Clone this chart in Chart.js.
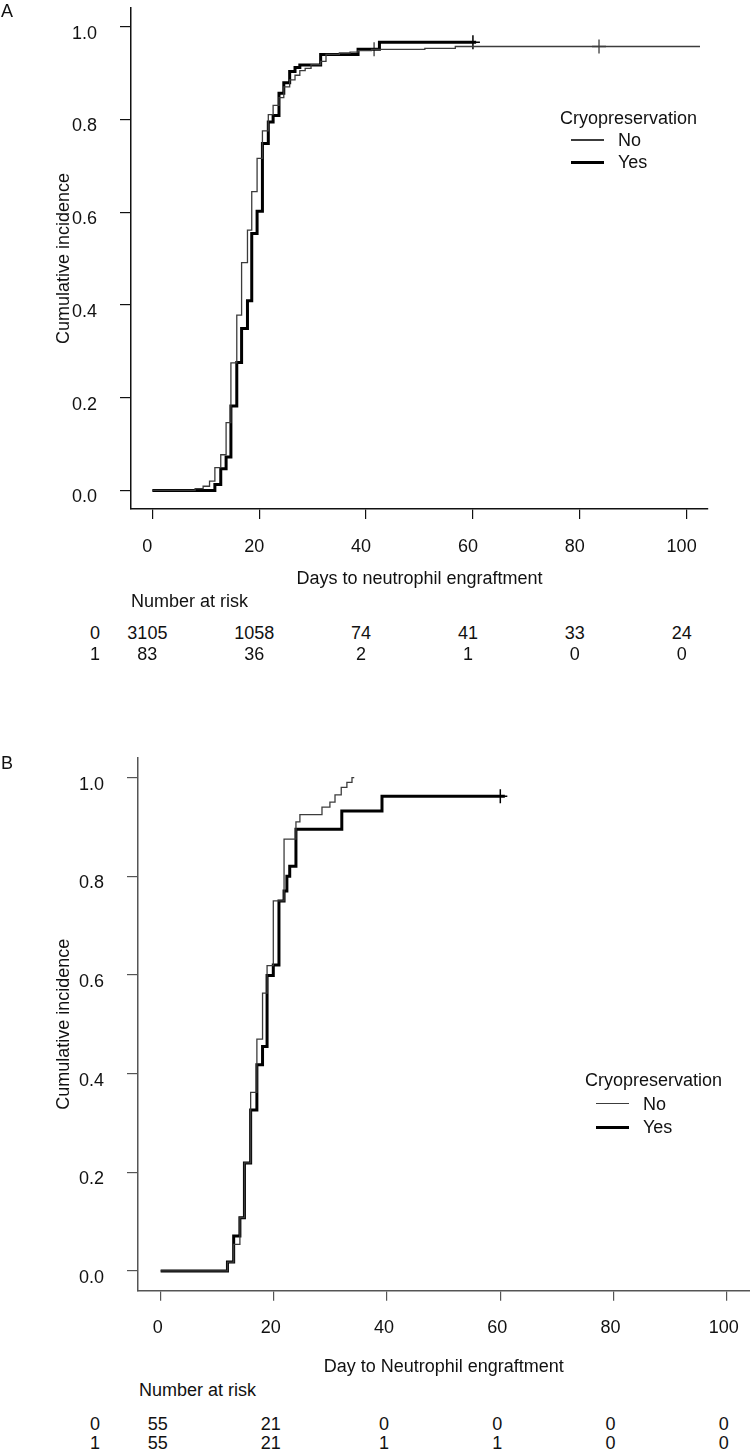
<!DOCTYPE html>
<html><head><meta charset="utf-8">
<script src="https://cdn.jsdelivr.net/npm/chart.js@4.4.1/dist/chart.umd.min.js"></script>
<style>
html,body{margin:0;padding:0;background:#fff;}
#wrap{position:relative;width:750px;height:1452px;overflow:hidden;font-family:"Liberation Sans",Arial,sans-serif;color:#111;}
canvas{position:absolute;left:0;}
.t{position:absolute;font-size:18px;line-height:20px;white-space:nowrap;}
</style></head><body>
<div id="wrap">
<canvas id="cA" width="750" height="600" style="top:0px"></canvas>
<canvas id="cB" width="750" height="640" style="top:740px"></canvas>
</div>
<script>
// ---- shared ticks / labels ----
const xTicks = [0, 20, 40, 60, 80, 100];
const yTicks = [0, 0.2, 0.4, 0.6, 0.8, 1.0];
const groupNames = ['No', 'Yes'];
const riskRowLabels = ['0', '1'];
const riskTimes = [0, 20, 40, 60, 80, 100];

// ---- Panel A ----
const aNoDays = [0, 8, 9.5, 10.7, 11.7, 12.8, 13.8, 14.7, 15.8, 16.7, 17.8, 18.6, 19.6, 20.6, 21.7, 22.6, 23.7, 24.6, 25.7, 26.7, 27.6, 28.6, 29.7, 31.5, 32.5, 35, 37, 38.5, 41, 51, 56.7, 102.5];
const aNoVals = [0, 0.004, 0.009, 0.02, 0.049, 0.077, 0.146, 0.275, 0.378, 0.491, 0.561, 0.644, 0.716, 0.775, 0.81, 0.83, 0.847, 0.87, 0.885, 0.895, 0.905, 0.91, 0.918, 0.925, 0.94, 0.943, 0.945, 0.948, 0.951, 0.953, 0.957, 0.957];
const aYesDays = [0, 11.7, 12.8, 13.8, 14.7, 15.8, 16.7, 17.8, 18.6, 19.6, 20.6, 21.7, 22.6, 23.7, 24.6, 25.7, 26.7, 27.6, 31.5, 38.5, 42.5, 60.6];
const aYesVals = [0, 0.013, 0.047, 0.072, 0.182, 0.276, 0.349, 0.409, 0.554, 0.602, 0.748, 0.794, 0.808, 0.856, 0.879, 0.903, 0.912, 0.917, 0.94, 0.951, 0.966, 0.966];
const aNoCensorDays = [41.5, 83.6];
const aNoCensorVals = [0.951, 0.957];
const aYesCensorDays = [60];
const aYesCensorVals = [0.966];
const aRiskNo = [3105, 1058, 74, 41, 33, 24];
const aRiskYes = [83, 36, 2, 1, 0, 0];

// ---- Panel B ----
const bNoDays = [0, 11.8, 12.9, 14, 14.8, 15.9, 17, 18, 18.8, 19.9, 21.8, 23.9, 24.6, 28.5, 29.9, 30.8, 31.9, 32.9, 33.8, 34.2];
const bNoVals = [0, 0.018, 0.054, 0.108, 0.219, 0.362, 0.47, 0.563, 0.619, 0.75, 0.875, 0.91, 0.925, 0.94, 0.95, 0.965, 0.98, 0.99, 1.0, 1.0];
const bYesDays = [0, 11.8, 12.9, 14, 14.8, 15.9, 17, 18, 18.8, 19.9, 20.9, 21.8, 22.3, 22.8, 23.9, 32, 39.1, 60.8];
const bYesVals = [0, 0.018, 0.071, 0.108, 0.219, 0.326, 0.418, 0.455, 0.599, 0.62, 0.75, 0.77, 0.8, 0.82, 0.895, 0.932, 0.962, 0.962];
const bYesCensorDays = [60];
const bYesCensorVals = [0.962];
const bRiskNo = [55, 21, 0, 0, 0, 0];
const bRiskYes = [55, 21, 1, 1, 0, 0];

const FONT = '"Liberation Sans", Arial, sans-serif';
const wrap = document.getElementById('wrap');

function pts(xs, ys) { return xs.map((x, i) => ({x: x, y: ys[i]})); }

function addText(txt, left, top, align) {
  const d = document.createElement('div');
  d.className = 't';
  d.textContent = txt;
  wrap.appendChild(d);
  d.style.top = (top - 10) + 'px';
  if (align === 'center') { d.style.left = (left - d.offsetWidth / 2) + 'px'; }
  else if (align === 'right') { d.style.left = (left - d.offsetWidth) + 'px'; }
  else { d.style.left = left + 'px'; }
  return d;
}

function zeroPad(s) { s.paddingTop = 0; s.paddingBottom = 0; s.paddingLeft = 0; s.paddingRight = 0; }

function makePanel(cfg) {
  const datasets = [
    {label: groupNames[0], data: pts(cfg.noDays, cfg.noVals), stepped: 'before', borderColor: '#3c3c3c', borderWidth: 1.3, pointRadius: 0, pointHoverRadius: 0, fill: false},
    {label: groupNames[1], data: pts(cfg.yesDays, cfg.yesVals), stepped: 'before', borderColor: '#000', borderWidth: 3, pointRadius: 0, pointHoverRadius: 0, fill: false}
  ];
  if (cfg.noCDays) datasets.push({label: 'cNo', type: 'scatter', data: pts(cfg.noCDays, cfg.noCVals), pointStyle: 'cross', pointRadius: 7, borderColor: '#3c3c3c', borderWidth: 1.3, showLine: false});
  if (cfg.yesCDays) datasets.push({label: 'cYes', type: 'scatter', data: pts(cfg.yesCDays, cfg.yesCVals), pointStyle: 'cross', pointRadius: 7, borderColor: '#000', borderWidth: 1.5, showLine: false});

  const lh = 21.6;
  const canvasH = document.getElementById(cfg.canvas).height;
  const padBottom = canvasH - (cfg.xTitleY + lh / 2);
  let placed = false;
  const overlay = {
    id: 'overlay',
    afterDraw(chart) {
      if (placed) return; placed = true;
      const xs = chart.scales.x;
      const off = cfg.top0;
      addText('Number at risk', cfg.riskLeft, off + cfg.riskTitleY, 'left');
      [cfg.riskNo, cfg.riskYes].forEach((row, r) => {
        const yy = off + cfg.riskRowY[r];
        addText(riskRowLabels[r], cfg.rowLabelX, yy, 'center');
        row.forEach((v, i) => addText(String(v), xs.getPixelForValue(riskTimes[i]) + cfg.labOff, yy, 'center'));
      });
      addText('Cryopreservation', cfg.legX, off + cfg.legY, 'left');
      groupNames.forEach((g, i) => {
        const yy = off + cfg.legY + cfg.legGap * (i + 1);
        const ln = document.createElement('div');
        ln.style.position = 'absolute';
        ln.style.left = cfg.legLineX + 'px';
        ln.style.width = '33px';
        const w = i === 0 ? 1.3 : 3;
        ln.style.height = w + 'px';
        ln.style.top = (yy - w / 2) + 'px';
        ln.style.background = i === 0 ? '#3c3c3c' : '#000';
        wrap.appendChild(ln);
        addText(g, cfg.legTextX, yy, 'left');
      });
      addText(cfg.panel, 1, off + cfg.panelY, 'left');
    }
  };

  return new Chart(document.getElementById(cfg.canvas), {
    type: 'line',
    data: {datasets: datasets},
    plugins: [overlay],
    options: {
      responsive: false,
      animation: false,
      events: [],
      layout: {autoPadding: false, padding: {left: 0, right: cfg.padRight, top: cfg.padTop, bottom: padBottom}},
      plugins: {legend: {display: false}, tooltip: {enabled: false}},
      scales: {
        x: {
          type: 'linear', min: -4, max: 104,
          afterBuildTicks(s) { s.ticks = xTicks.map(v => ({value: v})); },
          afterFit(s) { s.height = cfg.xTitleY + lh / 2 - cfg.bottom; zeroPad(s); },
          grid: {display: true, drawOnChartArea: false, drawTicks: true, tickLength: 10, color: cfg.axisColor, lineWidth: 1.2},
          border: {display: true, color: cfg.axisColor, width: 1.5},
          ticks: {color: '#111', font: {family: FONT, size: 18}, padding: 17, labelOffset: cfg.labOff, maxRotation: 0, autoSkip: false, callback: v => String(v)},
          title: {display: true, text: cfg.xTitle, color: '#111', font: {family: FONT, size: 18}, padding: {top: 0, bottom: 0}}
        },
        y: {
          type: 'linear', min: -0.04, max: 1.04,
          afterBuildTicks(s) { s.ticks = yTicks.map(v => ({value: v})); },
          afterFit(s) { s.width = cfg.left; zeroPad(s); },
          grid: {display: true, drawOnChartArea: false, drawTicks: true, tickLength: 11, color: cfg.axisColor, lineWidth: 1.2},
          border: {display: true, color: cfg.axisColor, width: 1.5},
          ticks: {color: '#111', font: {family: FONT, size: 18}, padding: 23, labelOffset: 7, callback: v => v.toFixed(1)},
          title: {display: true, text: 'Cumulative incidence', color: '#111', font: {family: FONT, size: 18}, padding: {top: 53, bottom: 0}}
        }
      }
    }
  });
}

makePanel({
  canvas: 'cA', panel: 'A', top0: 0, panelY: 11,
  left: 131, padRight: 42, padTop: 8, bottom: 509, xTitleY: 579,
  xTitle: 'Days to neutrophil engraftment', axisColor: '#111', labOff: -5,
  noDays: aNoDays, noVals: aNoVals, yesDays: aYesDays, yesVals: aYesVals,
  noCDays: aNoCensorDays, noCVals: aNoCensorVals, yesCDays: aYesCensorDays, yesCVals: aYesCensorVals,
  riskNo: aRiskNo, riskYes: aRiskYes, riskLeft: 131, riskTitleY: 601, riskRowY: [633, 654], rowLabelX: 95,
  legX: 560, legY: 118, legGap: 22, legLineX: 571, legTextX: 618
});

makePanel({
  canvas: 'cB', panel: 'B', top0: 740, panelY: 23,
  left: 138, padRight: 0.6, padTop: 17.8, bottom: 550.7, xTitleY: 627,
  xTitle: 'Day to Neutrophil engraftment', axisColor: '#555', labOff: -3,
  noDays: bNoDays, noVals: bNoVals, yesDays: bYesDays, yesVals: bYesVals,
  yesCDays: bYesCensorDays, yesCVals: bYesCensorVals,
  riskNo: bRiskNo, riskYes: bRiskYes, riskLeft: 139, riskTitleY: 650, riskRowY: [684, 703], rowLabelX: 95,
  legX: 585, legY: 340, legGap: 23.5, legLineX: 596, legTextX: 643
});
</script>
</body></html>
